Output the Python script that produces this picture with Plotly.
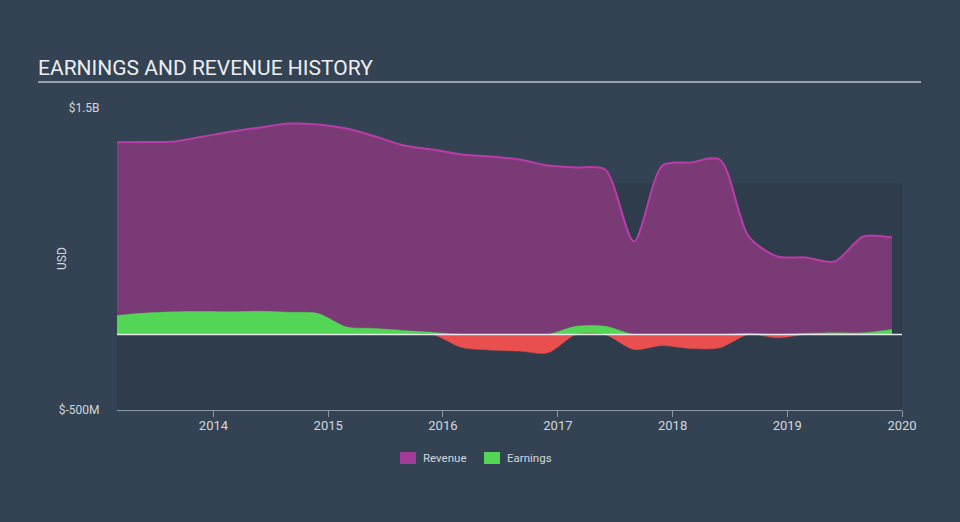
import plotly.graph_objects as go

# Fiscal quarter ends (Feb, May, Aug, Nov)
dates = [
    "2013-02-28", "2013-05-31", "2013-08-31", "2013-11-30",
    "2014-02-28", "2014-05-31", "2014-08-31", "2014-11-30",
    "2015-02-28", "2015-05-31", "2015-08-31", "2015-11-30",
    "2016-02-29", "2016-05-31", "2016-08-31", "2016-11-30",
    "2017-02-28", "2017-05-31", "2017-08-31", "2017-11-30",
    "2018-02-28", "2018-05-31", "2018-08-31", "2018-11-30",
    "2019-02-28", "2019-05-31", "2019-08-31", "2019-11-30",
]

# USD, billions
revenue = [
    1.274, 1.275, 1.278, 1.311,
    1.344, 1.371, 1.397, 1.391,
    1.364, 1.311, 1.252, 1.225,
    1.192, 1.179, 1.159, 1.119,
    1.106, 1.093, 0.616, 1.119,
    1.139, 1.159, 0.650, 0.517,
    0.510, 0.483, 0.649, 0.642,
]

earnings = [
    0.126, 0.142, 0.150, 0.152,
    0.150, 0.154, 0.147, 0.139,
    0.050, 0.040, 0.026, 0.014,
    -0.085, -0.103, -0.110, -0.121,
    0.054, 0.055, -0.099, -0.073,
    -0.093, -0.088, 0.006, -0.022,
    0.007, 0.011, 0.011, 0.033,
]

x_tick_vals = ["2014-01-01", "2015-01-01", "2016-01-01", "2017-01-01",
               "2018-01-01", "2019-01-01", "2020-01-01"]
x_tick_text = ["2014", "2015", "2016", "2017", "2018", "2019", "2020"]
y_tick_vals = [1.5e9, -0.5e9]
y_tick_text = ["$1.5B", "$-500M"]
legend_names = ["Revenue", "Earnings"]

BG = "#344354"
BAND = "#2e3c4c"
REV_LINE = "#b93ca8"
REV_FILL = "#7a3a76"
REV_SWATCH = "#a23a9a"
GREEN = "#53d655"
RED = "#ea4f4f"
TXT = "#d2d6db"

rev_usd = [v * 1e9 for v in revenue]
pos_usd = [max(v, 0) * 1e9 for v in earnings]
neg_usd = [min(v, 0) * 1e9 for v in earnings]

fig = go.Figure()

fig.add_trace(go.Scatter(
    x=dates, y=rev_usd, mode="lines", name="Revenue",
    line=dict(color=REV_LINE, width=2, shape="spline", smoothing=0.8),
    fill="tozeroy", fillcolor=REV_FILL, showlegend=False, hoverinfo="skip",
))
fig.add_trace(go.Scatter(
    x=dates, y=pos_usd, mode="lines", name="Earnings",
    line=dict(color=GREEN, width=0.5, shape="spline", smoothing=0.8),
    fill="tozeroy", fillcolor=GREEN, showlegend=False, hoverinfo="skip",
))
fig.add_trace(go.Scatter(
    x=dates, y=neg_usd, mode="lines", name="Earnings (loss)",
    line=dict(color=RED, width=0.5, shape="spline", smoothing=0.8),
    fill="tozeroy", fillcolor=RED, showlegend=False, hoverinfo="skip",
))

# plot area in pixels: x 117..902, y 108..410
PL, PR, PT, PB = 117, 902, 108, 410
def px_x(x):
    return (x - PL) / (PR - PL)
def px_y(y):
    return (PB - y) / (PB - PT)

shapes = [
    dict(type="rect", xref="paper", yref="y", x0=0, x1=1, y0=-0.5e9, y1=1.0e9,
         fillcolor=BAND, line=dict(width=0), layer="below"),
    dict(type="line", xref="paper", yref="y", x0=0, x1=1, y0=0, y1=0,
         line=dict(color="#e6e9ec", width=1.5), layer="above"),
    dict(type="line", xref="paper", yref="paper", x0=px_x(38), x1=px_x(921),
         y0=px_y(82), y1=px_y(82), line=dict(color="#9aa3ad", width=2)),
]
annotations = [
    dict(text="USD", xref="paper", yref="paper", x=px_x(62), y=px_y(259), textangle=-90,
         showarrow=False, xanchor="center", yanchor="middle", font=dict(size=12, color=TXT)),
]

# custom legend
legend_items = [(legend_names[0], REV_SWATCH, 400), (legend_names[1], GREEN, 484)]
for name, col, x0 in legend_items:
    shapes.append(dict(type="rect", xref="paper", yref="paper", x0=px_x(x0), x1=px_x(x0 + 16),
                       y0=px_y(464), y1=px_y(452), fillcolor=col, line=dict(width=0)))
    annotations.append(dict(text=name, xref="paper", yref="paper", x=px_x(x0 + 21), y=px_y(458),
                            showarrow=False, xanchor="left", yanchor="middle",
                            font=dict(size=11.5, color=TXT)))

fig.update_layout(
    width=960, height=522,
    paper_bgcolor=BG, plot_bgcolor=BG,
    margin=dict(l=PL, r=960 - PR, t=PT, b=522 - PB),
    font=dict(family="Roboto, Open Sans, sans-serif", color=TXT, size=12),
    title=dict(text="EARNINGS AND REVENUE HISTORY", xref="container", x=38 / 960, xanchor="left",
               yref="container", y=1 - 68 / 522, yanchor="middle",
               font=dict(size=21, color="#eceef0", family="Roboto, sans-serif")),
    showlegend=False,
    xaxis=dict(type="date", range=["2013-02-28", "2020-01-01"], showgrid=False, zeroline=False,
               tickvals=x_tick_vals, ticktext=x_tick_text,
               ticks="outside", ticklen=6, tickcolor="#8e99a6", showline=True, linecolor="#8e99a6",
               linewidth=1, tickfont=dict(size=13, color=TXT), automargin=False,
               ticklabelstandoff=-3),
    yaxis=dict(range=[-0.5e9, 1.5e9], showgrid=False, zeroline=False,
               tickvals=y_tick_vals, ticktext=y_tick_text,
               ticks="outside", ticklen=14, tickcolor="rgba(0,0,0,0)",
               tickfont=dict(size=12, color=TXT), automargin=False),
    shapes=shapes,
    annotations=annotations,
)

fig.write_html("out.html", config={"displayModeBar": False},
               post_script="document.body.style.margin='0';document.body.style.overflow='hidden';")
